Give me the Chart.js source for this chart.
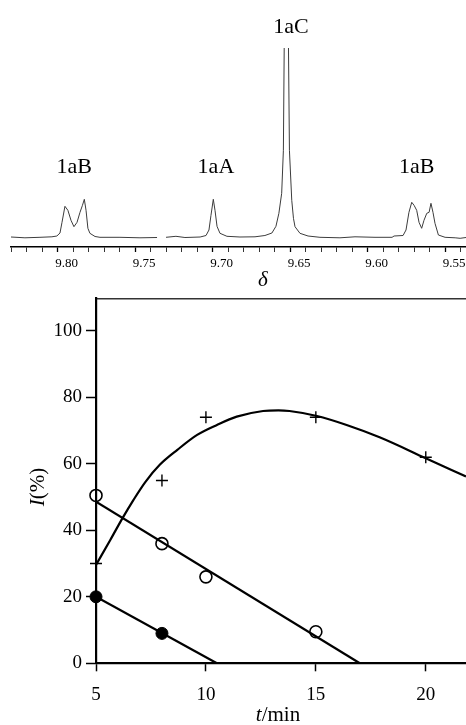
<!DOCTYPE html>
<html lang="en">
  <head>
    <meta charset="UTF-8" />
    <meta name="viewport" content="width=device-width, initial-scale=1.0" />
    <script src="https://cdn.jsdelivr.net/npm/chart.js@4.4.1/dist/chart.umd.min.js"></script>
    <title>1aA / 1aB / 1aC spectrum and kinetics</title>
    <style>
      body {
        margin: 0;
        background: #fff;
        width: 466px;
        height: 725px;
        overflow: hidden;
        position: relative;
      }
      .box {
        position: absolute;
        left: 0;
        width: 466px;
      }
      #top {
        top: 0;
        height: 292px;
      }
      #bottom {
        top: 292px;
        height: 433px;
      }
    </style>
  </head>
  <body>
    <div class="box" id="top"><canvas id="nmrChart"></canvas></div>
    <div class="box" id="bottom"><canvas id="kinChart"></canvas></div>

    <script>
      // --- top: spectrum, delta (ppm) vs intensity (arbitrary units)
      const shiftPpm = [
        9.8301, 9.8211, 9.8114, 9.8037, 9.8005, 9.7985, 9.7972, 9.7953, 9.7934, 9.7914,
        9.7895, 9.7875, 9.7856, 9.784, 9.7828, 9.7817, 9.7805, 9.7792, 9.7759, 9.7727,
        9.7598, 9.7469, 9.7359, 9.733, 9.7301, 9.7237, 9.7179, 9.7081, 9.7043, 9.7024,
        9.7011, 9.6996, 9.6985, 9.6972, 9.6953, 9.6908, 9.6824, 9.6727, 9.6663, 9.6618,
        9.6592, 9.6573, 9.6555, 9.6544, 9.6536, 9.6526, 9.6514, 9.6505, 9.649, 9.6479,
        9.6469, 9.6437, 9.6385, 9.6308, 9.6179, 9.6082, 9.5953, 9.5843, 9.583, 9.5772,
        9.5753, 9.5734, 9.5716, 9.5701, 9.5684, 9.5669, 9.5652, 9.5637, 9.5619, 9.5604,
        9.5592, 9.5579, 9.5566, 9.5544, 9.5501, 9.5436, 9.5404, 9.5366
      ];
      const intensity = [
        0.3, -0.5, 0, 0.5, 1.3, 4.3, 15, 31, 27, 17,
        10.6, 15, 25, 32, 38, 27, 9, 4, 0.8, 0,
        0, -0.5, -0.2, null, 0, 1, -0.2, 0.3, 1.8, 7.3,
        22, 38, 27, 11, 4, 1, 0.3, 0.5, 1.8, 4.3,
        11, 24, 44, 87, 240, 260, 240, 87, 37, 19,
        10.6, 4, 1.3, 0, -0.5, 0.5, 0, 0, 1.3, 1.8,
        7.3, 25, 35, 32, 27, 15, 9, 17, 24, 25,
        34, 25, 14, 2.3, 0, -0.5, -1, -0.2
      ];
      const nmrTickLabels = ["9.80", "9.75", "9.70", "9.65", "9.60", "9.55"];
      const peakNames = ["1aB", "1aA", "1aC", "1aB"];
      const peakLabelPpm = [9.7894, 9.6979, 9.6495, 9.5684];
      const peakLabelLevel = [64.3, 64.3, 204.3, 64.3];

      // --- bottom: I(%) vs t/min
      const plusT = [5, 8, 10, 15, 20];
      const plusI = [30, 55, 74, 74, 62];
      const openT = [5, 8, 10, 15];
      const openI = [50.5, 36, 26, 9.5];
      const filledT = [5, 8];
      const filledI = [20, 9];
      // fitted curves as drawn in the figure
      const plusFitT = [5, 5.65, 6.2, 6.7, 7.25, 7.9, 8.7, 9.6, 10.5, 11.4, 12.6, 13.3, 13.8, 15.05, 16.4, 17.9, 20, 21.83];
      const plusFitI = [29.6, 37.1, 43.6, 49.1, 54.6, 59.7, 64.2, 68.7, 71.7, 74.2, 75.9, 76.1, 75.9, 74.4, 71.7, 68.0, 61.7, 56.2];
      const openFitT = [5, 17];
      const openFitI = [48.6, 0];
      const filledFitT = [5, 10.5];
      const filledFitI = [20, 0];
      const xTickVals = [5, 10, 15, 20];
      const yTickVals = [0, 20, 40, 60, 80, 100];

      const SERIF = '"Liberation Serif", "Times New Roman", serif';
      Chart.defaults.font.family = SERIF;
      Chart.defaults.color = "#000";

      const pts = (xs, ys) => xs.map((x, i) => ({ x: x, y: ys[i] }));

      // minor ticks every 0.01 ppm
      const nmrTickVals = [];
      for (let i = 0; i <= 29; i++) nmrTickVals.push(Math.round((9.54 + i * 0.01) * 100) / 100);
      const majorLabel = (v) => nmrTickLabels.find((l) => Math.abs(parseFloat(l) - v) < 1e-6);

      // keep the scales from asking for extra room round the plot
      const noPad = (s) => {
        s.paddingTop = 0;
        s.paddingBottom = 0;
        s.paddingLeft = 0;
        s.paddingRight = 0;
      };

      const nmrText = {
        id: "nmrText",
        afterDraw(chart) {
          const ctx = chart.ctx;
          const xs = chart.scales.x;
          const ys = chart.scales.y;
          ctx.save();
          ctx.fillStyle = "#000";
          ctx.textAlign = "center";
          ctx.textBaseline = "alphabetic";
          ctx.font = "22px " + SERIF;
          peakNames.forEach((name, i) => {
            ctx.fillText(name, xs.getPixelForValue(peakLabelPpm[i]), ys.getPixelForValue(peakLabelLevel[i]));
          });
          ctx.font = "italic 21px " + SERIF;
          ctx.fillText("\u03B4", 263, 286);
          ctx.restore();
        },
      };

      new Chart(document.getElementById("nmrChart"), {
        type: "scatter",
        data: {
          datasets: [
            {
              data: pts(shiftPpm, intensity),
              showLine: true,
              spanGaps: false,
              borderColor: "#3c3c3c",
              borderWidth: 1,
              pointRadius: 0,
              tension: 0,
            },
          ],
        },
        options: {
          responsive: true,
          maintainAspectRatio: false,
          animation: false,
          layout: { autoPadding: false, padding: { left: 11, top: 48, right: 0, bottom: 0 } },
          plugins: { legend: { display: false }, tooltip: { enabled: false } },
          scales: {
            x: {
              type: "linear",
              min: 9.5366,
              max: 9.8301,
              reverse: true,
              afterBuildTicks: (a) => {
                a.ticks = nmrTickVals.map((v) => ({ value: v }));
              },
              afterFit: (s) => {
                s.height = 45;
                noPad(s);
              },
              grid: {
                drawOnChartArea: false,
                tickLength: 5,
                tickColor: "#000",
                tickWidth: (c) => (c.tick && majorLabel(c.tick.value) ? 1.3 : 0.8),
              },
              border: { color: "#000", width: 1.5 },
              ticks: {
                autoSkip: false,
                maxRotation: 0,
                padding: 4,
                labelOffset: 9,
                font: { size: 13 },
                callback: (v) => majorLabel(v) || "",
              },
            },
            y: { display: false, min: -9.7, max: 189.3 },
          },
        },
        plugins: [nmrText],
      });

      function drawMixed(ctx, parts, cx, cy) {
        let total = 0;
        parts.forEach((p) => {
          ctx.font = p[0];
          total += ctx.measureText(p[1]).width;
        });
        let x = cx - total / 2;
        parts.forEach((p) => {
          ctx.font = p[0];
          ctx.fillText(p[1], x, cy);
          x += ctx.measureText(p[1]).width;
        });
      }

      const kinTitles = {
        id: "kinTitles",
        afterDraw(chart) {
          const ctx = chart.ctx;
          ctx.save();
          ctx.fillStyle = "#000";
          ctx.textAlign = "left";
          ctx.textBaseline = "middle";
          drawMixed(ctx, [["italic 21px " + SERIF, "t"], ["21px " + SERIF, "/min"]], 278, 423);
          ctx.translate(38, 195);
          ctx.rotate(-Math.PI / 2);
          drawMixed(ctx, [["italic 21px " + SERIF, "I"], ["21px " + SERIF, "(%)"]], 0, 0);
          ctx.restore();
        },
      };

      const fitLine = (xs, ys, extra) =>
        Object.assign(
          {
            data: pts(xs, ys),
            showLine: true,
            borderColor: "#000",
            borderWidth: 2.2,
            pointRadius: 0,
          },
          extra || {}
        );

      new Chart(document.getElementById("kinChart"), {
        type: "scatter",
        data: {
          datasets: [
            fitLine(plusFitT, plusFitI, { cubicInterpolationMode: "monotone" }),
            fitLine(openFitT, openFitI),
            fitLine(filledFitT, filledFitI),
            {
              data: pts(plusT, plusI),
              pointStyle: "cross",
              pointRadius: 6,
              pointBorderWidth: 1.4,
              borderColor: "#000",
              clip: false,
            },
            {
              data: pts(openT, openI),
              pointStyle: "circle",
              pointRadius: 6,
              pointBorderWidth: 1.6,
              borderColor: "#000",
              backgroundColor: "rgba(255,255,255,0)",
              clip: false,
            },
            {
              data: pts(filledT, filledI),
              pointStyle: "circle",
              pointRadius: 6,
              borderColor: "#000",
              backgroundColor: "#000",
              clip: false,
            },
          ],
        },
        options: {
          responsive: true,
          maintainAspectRatio: false,
          animation: false,
          layout: { autoPadding: false, padding: { left: 0, top: 6.3, right: 0, bottom: 0 } },
          plugins: { legend: { display: false }, tooltip: { enabled: false } },
          scales: {
            x: {
              type: "linear",
              position: "bottom",
              min: 5,
              max: 21.83,
              afterBuildTicks: (a) => {
                a.ticks = xTickVals.map((v) => ({ value: v }));
              },
              afterFit: (s) => {
                s.height = 61.7;
                noPad(s);
              },
              grid: { drawOnChartArea: false, tickLength: 8, tickColor: "#000", tickWidth: 1.5 },
              border: { color: "#000", width: 2.2 },
              ticks: { maxRotation: 0, padding: 12, font: { size: 19 } },
            },
            xTop: {
              type: "linear",
              position: "top",
              min: 5,
              max: 21.83,
              afterFit: (s) => {
                s.height = 0;
                noPad(s);
              },
              ticks: { display: false },
              grid: { display: false, drawTicks: false },
              border: { color: "#333", width: 1.5 },
            },
            y: {
              min: 0,
              max: 109.8,
              afterBuildTicks: (a) => {
                a.ticks = yTickVals.map((v) => ({ value: v }));
              },
              afterFit: (s) => {
                s.width = 96;
                noPad(s);
              },
              grid: { drawOnChartArea: false, tickLength: 10, tickColor: "#000", tickWidth: 1.5 },
              border: { color: "#000", width: 2.2 },
              ticks: { padding: 4, font: { size: 19 } },
            },
          },
        },
        plugins: [kinTitles],
      });
    </script>
  </body>
</html>
